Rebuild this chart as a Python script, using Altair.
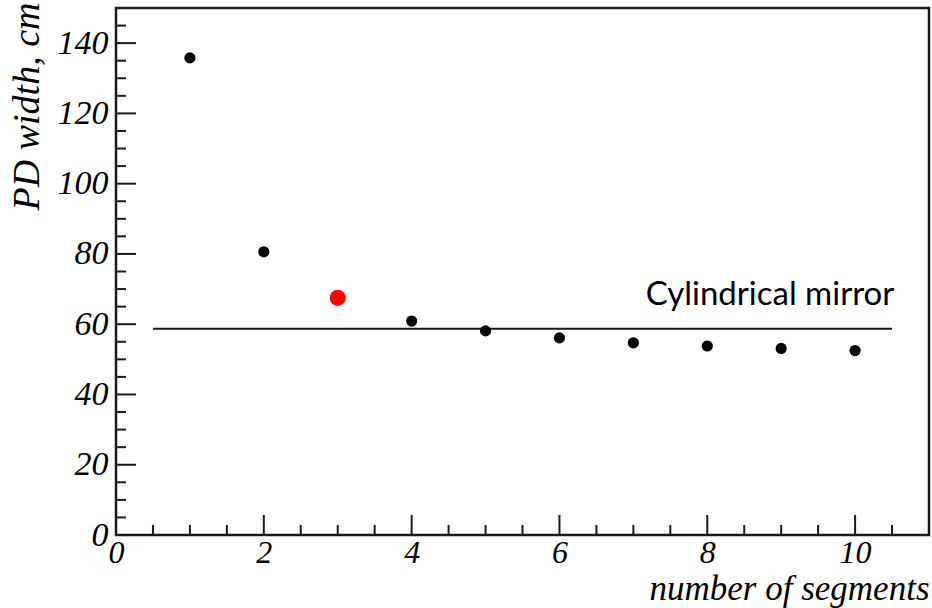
import altair as alt
import pandas as pd

# ---- data ----
segments = [1, 2, 3, 4, 5, 6, 7, 8, 9, 10]
pd_width = [135.8, 80.6, 67.5, 60.9, 58.1, 56.1, 54.7, 53.8, 53.1, 52.5]
kind = ["other", "other", "chosen", "other", "other", "other", "other", "other", "other", "other"]

mirror_level = [58.7]
mirror_from = [0.5]
mirror_to = [10.5]
mirror_label = ["Cylindrical mirror"]
label_x = [10.53]
label_y = [65.5]

x_major = [0, 2, 4, 6, 8, 10]
x_minor = [0.5, 1, 1.5, 2.5, 3, 3.5, 4.5, 5, 5.5, 6.5, 7, 7.5, 8.5, 9, 9.5, 10.5]
y_major = [20, 40, 60, 80, 100, 120, 140]
y_minor = [5, 10, 15, 25, 30, 35, 45, 50, 55, 65, 70, 75, 85, 90, 95,
           105, 110, 115, 125, 130, 135, 145]

W, H = 813, 527
SERIF = "Liberation Serif"
INK = "#1a1a1a"

points = pd.DataFrame({"n": segments, "w": pd_width, "kind": kind})
xs = alt.Scale(domain=[0, 11], nice=False, zero=False)
ys = alt.Scale(domain=[0, 150], nice=False, zero=False)

x_axis = alt.Axis(values=x_major, format="d", title="number of segments", grid=False, domain=False,
                  ticks=False, labelFont=SERIF, labelFontStyle="italic", labelFontSize=32,
                  labelColor="black", labelPadding=2, labelFlush=False, labelOverlap=False,
                  titleFont=SERIF, titleFontStyle="italic", titleFontWeight="normal",
                  titleFontSize=35, titleColor="black", titleAnchor="end", titleAlign="right",
                  titleBaseline="middle", titleX=W, titleY=53)
y_axis = alt.Axis(values=[0] + y_major, format="d", title="PD width, cm", grid=False, domain=False,
                  ticks=False, labelFont=SERIF, labelFontStyle="italic", labelFontSize=34,
                  labelColor="black", labelPadding=8, labelFlush=False, labelOverlap=False,
                  titleFont=SERIF, titleFontStyle="italic", titleFontWeight="normal",
                  titleFontSize=38, titleColor="black", titleAngle=-90, titleAlign="right",
                  titleBaseline="middle", titleX=-89, titleY=-6)

base = alt.Chart(points)
dots = base.mark_circle(opacity=1).encode(
    x=alt.X("n:Q", scale=xs, axis=x_axis),
    y=alt.Y("w:Q", scale=ys, axis=y_axis),
    color=alt.Color("kind:N", scale=alt.Scale(domain=["other", "chosen"], range=["black", "#ff0000"]), legend=None),
    size=alt.Size("kind:N", scale=alt.Scale(domain=["other", "chosen"], range=[125, 260]), legend=None),
)

mirror = alt.Chart(pd.DataFrame({"a": mirror_from, "b": mirror_to, "y": mirror_level})).mark_rule(
    color=INK, strokeWidth=2).encode(x=alt.X("a:Q", scale=xs), x2="b:Q", y=alt.Y("y:Q", scale=ys))

label = alt.Chart(pd.DataFrame({"x": label_x, "y": label_y, "t": mirror_label})).mark_text(
    font="Lato", fontSize=33, align="right", baseline="alphabetic", color="black").encode(
    x=alt.X("x:Q", scale=xs), y=alt.Y("y:Q", scale=ys), text="t:N")

def yticks(vals, length):
    return alt.Chart(pd.DataFrame({"v": vals})).mark_rule(color=INK, strokeWidth=2).encode(
        y=alt.Y("v:Q", scale=ys), x=alt.value(0), x2=alt.value(length))

def xticks(vals, length):
    return alt.Chart(pd.DataFrame({"v": vals})).mark_rule(color=INK, strokeWidth=2).encode(
        x=alt.X("v:Q", scale=xs), y=alt.value(H), y2=alt.value(H - length))

chart = alt.layer(
    mirror, yticks(y_major, 20), yticks(y_minor, 10), xticks(x_major, 20), xticks(x_minor, 10),
    dots, label
).properties(
    width=W, height=H,
    autosize=alt.AutoSizeParams(type="none"),
    padding={"left": 116, "top": 8, "right": 3, "bottom": 73},
    background="white",
).configure_view(stroke=INK, strokeWidth=2.5)

chart.save("out.html", embed_options={"renderer": "svg", "actions": False})
